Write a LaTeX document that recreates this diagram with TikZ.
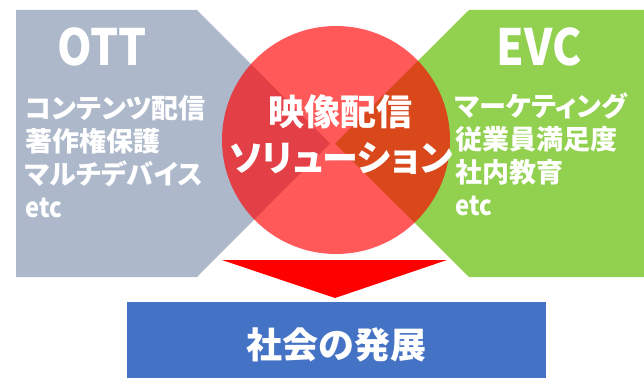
\documentclass[tikz,border=0pt]{standalone}
\usepackage{fontspec}
\newfontfamily\jp[RawFeature=+palt]{Noto Sans CJK JP}
\newfontfamily\jpfull{Noto Sans CJK JP}
\newfontfamily\cond[FakeStretch=0.88]{Noto Sans CJK JP}
\definecolor{ottgrey}{HTML}{ADB9CA}
\definecolor{evcgreen}{HTML}{92D050}
\definecolor{boxblue}{HTML}{4472C4}
\tikzset{
  title/.style={text=white,inner sep=0pt,font=\cond\bfseries\fontsize{50}{50}\selectfont},
  listtext/.style={text=white,inner sep=0pt,anchor=base west,font=\jp\bfseries\fontsize{27}{33}\selectfont},
  centertext/.style={text=white,inner sep=0pt,font=\jp\bfseries\fontsize{36}{36}\selectfont},
}
\begin{document}
\begin{tikzpicture}[x=1pt,y=-1pt]
\useasboundingbox (0,0) rectangle (644,377);
% OTT pentagon
\fill[ottgrey] (16,10) -- (197,10) -- (330,143.5) -- (197,277) -- (16,277) -- cycle;
% EVC notched shape
\fill[evcgreen] (469,10) -- (644,10) -- (644,277) -- (469,277) -- (335,143.5) -- cycle;
% red circle
\node[circle,fill=red,fill opacity=0.65,minimum size=228pt,inner sep=0pt] (sol) at (336,140) {};
% down arrow
\coordinate (arrL) at (222,260);
\coordinate (arrR) at (447,260);
\coordinate (arrT) at (335,298);
\fill[red] (arrL) -- (arrR) -- (arrT) -- cycle;
% blue box
\node[fill=boxblue,minimum width=419pt,minimum height=76pt,inner sep=0pt,anchor=north west] (soc) at (127,302) {};
% titles
\node[title] (ott) at (102,47) {OTT};
\node[title] (evc) at (539,47) {EVC};
% lists
\node[listtext] (ottlist) at (25,118) {\begin{tabular}[t]{@{}l@{}}コンテンツ配信\\著作権保護\\マルチデバイス\\{\cond etc}\end{tabular}};
\node[listtext] (evclist) at (455,116) {\begin{tabular}[t]{@{}l@{}}マーケティング\\従業員満足度\\社内教育\\{\cond etc}\end{tabular}};
% center
\node[centertext] (solA) at (340,112) {映像配信};
\node[centertext] (solB) at (341,159) {ソリューション};
\node[centertext,font=\jpfull\bfseries\fontsize{36}{36}\selectfont] (socT) at (336,345) {社会の発展};
\end{tikzpicture}
\end{document}
